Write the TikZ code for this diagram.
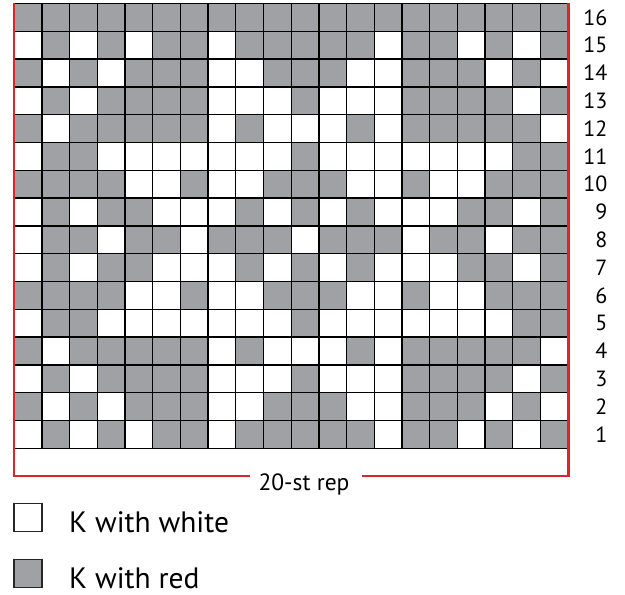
\documentclass[tikz,border=0pt]{standalone}
\usepackage{fontspec}
\setmainfont{PT Sans}
\definecolor{knitgray}{RGB}{160,161,165}
\definecolor{knitred}{RGB}{218,37,47}
\begin{document}
\begin{tikzpicture}[x=1pt,y=-1pt,
  gridline/.style={black,line width=1.3pt},
  redline/.style={knitred,line width=2.6pt},
  rownum/.style={anchor=east,inner sep=0pt,font=\fontsize{22}{26}\selectfont},
  legbox/.style={draw=black!85,line width=1.3pt,minimum width=28pt,minimum height=28pt,inner sep=0pt},
  legtext/.style={anchor=base west,inner sep=0pt,font=\fontsize{29.5}{34}\selectfont}]
\useasboundingbox (0,0) rectangle (625,595);
\def\gx{14.2}\def\gy{3.5}\def\cw{27.7}\def\ch{27.8}
\foreach \r/\row in {
 16/{1,1,1,1,1,1,1,1,1,1,1,1,1,1,1,1,1,1,1,1},
 15/{0,1,0,1,0,1,1,0,1,1,1,1,1,0,1,1,0,1,0,1},
 14/{1,0,1,0,1,1,1,0,0,1,1,1,0,0,1,1,1,0,1,0},
 13/{0,1,0,1,1,1,1,0,0,0,1,0,0,0,1,1,1,1,0,1},
 12/{1,0,1,1,1,1,1,0,1,0,0,0,1,0,1,1,1,1,1,0},
 11/{0,1,1,0,0,0,0,0,0,0,1,0,0,0,0,0,0,0,1,1},
 10/{1,1,1,1,0,0,1,0,0,1,1,1,0,0,1,0,0,1,1,1},
 9/{0,1,0,1,1,0,0,0,1,0,1,0,1,0,0,0,1,1,0,1},
 8/{0,1,1,0,1,1,0,1,1,1,0,1,1,1,0,1,1,0,1,1},
 7/{0,1,0,1,1,0,0,0,1,0,1,0,1,0,0,0,1,1,0,1},
 6/{1,1,1,1,0,0,1,0,0,1,1,1,0,0,1,0,0,1,1,1},
 5/{0,1,1,0,0,0,0,0,0,0,1,0,0,0,0,0,0,0,1,1},
 4/{1,0,1,1,1,1,1,0,1,0,0,0,1,0,1,1,1,1,1,0},
 3/{0,1,0,1,1,1,1,0,0,0,1,0,0,0,1,1,1,1,0,1},
 2/{1,0,1,0,1,1,1,0,0,1,1,1,0,0,1,1,1,0,1,0},
 1/{0,1,0,1,0,1,1,0,1,1,1,1,1,0,1,1,0,1,0,1}} {
  \pgfmathsetmacro\ytop{\gy+(16-\r)*\ch}
  \foreach \v [count=\i from 0] in \row {
    \ifnum\v=1
      \fill[knitgray] ({\gx+\i*\cw},\ytop) rectangle ++(\cw,\ch);
    \fi
  }
  \node[rownum] (n\r) at (607.5,{\ytop+\ch/2}) {\r};
}
\foreach \i in {0,...,20}
  \draw[gridline] ({\gx+\i*\cw},\gy) -- ({\gx+\i*\cw},{\gy+16*\ch});
\foreach \j in {0,...,16}
  \draw[gridline] (\gx,{\gy+\j*\ch}) -- ({\gx+20*\cw},{\gy+\j*\ch});
% red repeat bracket
\coordinate (tl) at (13.8,2.5);
\coordinate (bl) at (13.8,476);
\coordinate (gl) at (250,476);
\coordinate (gr) at (362,476);
\coordinate (br) at (568.5,476);
\coordinate (tr) at (568.5,2.5);
\draw[redline] (tl) -- (bl) -- (gl);
\draw[redline] (gr) -- (br) -- (tr);
\node[anchor=base,inner sep=0pt,font=\fontsize{23.5}{28}\selectfont] (rep) at (304,490) {20-st rep};
% legend
\node[legbox,fill=white] (lw) at (28,517.5) {};
\node[legtext] (tw) at (69,532) {K with white};
\node[legbox,fill=knitgray] (lr) at (28,573.5) {};
\node[legtext] (tr2) at (69,588) {K with red};
\end{tikzpicture}
\end{document}
